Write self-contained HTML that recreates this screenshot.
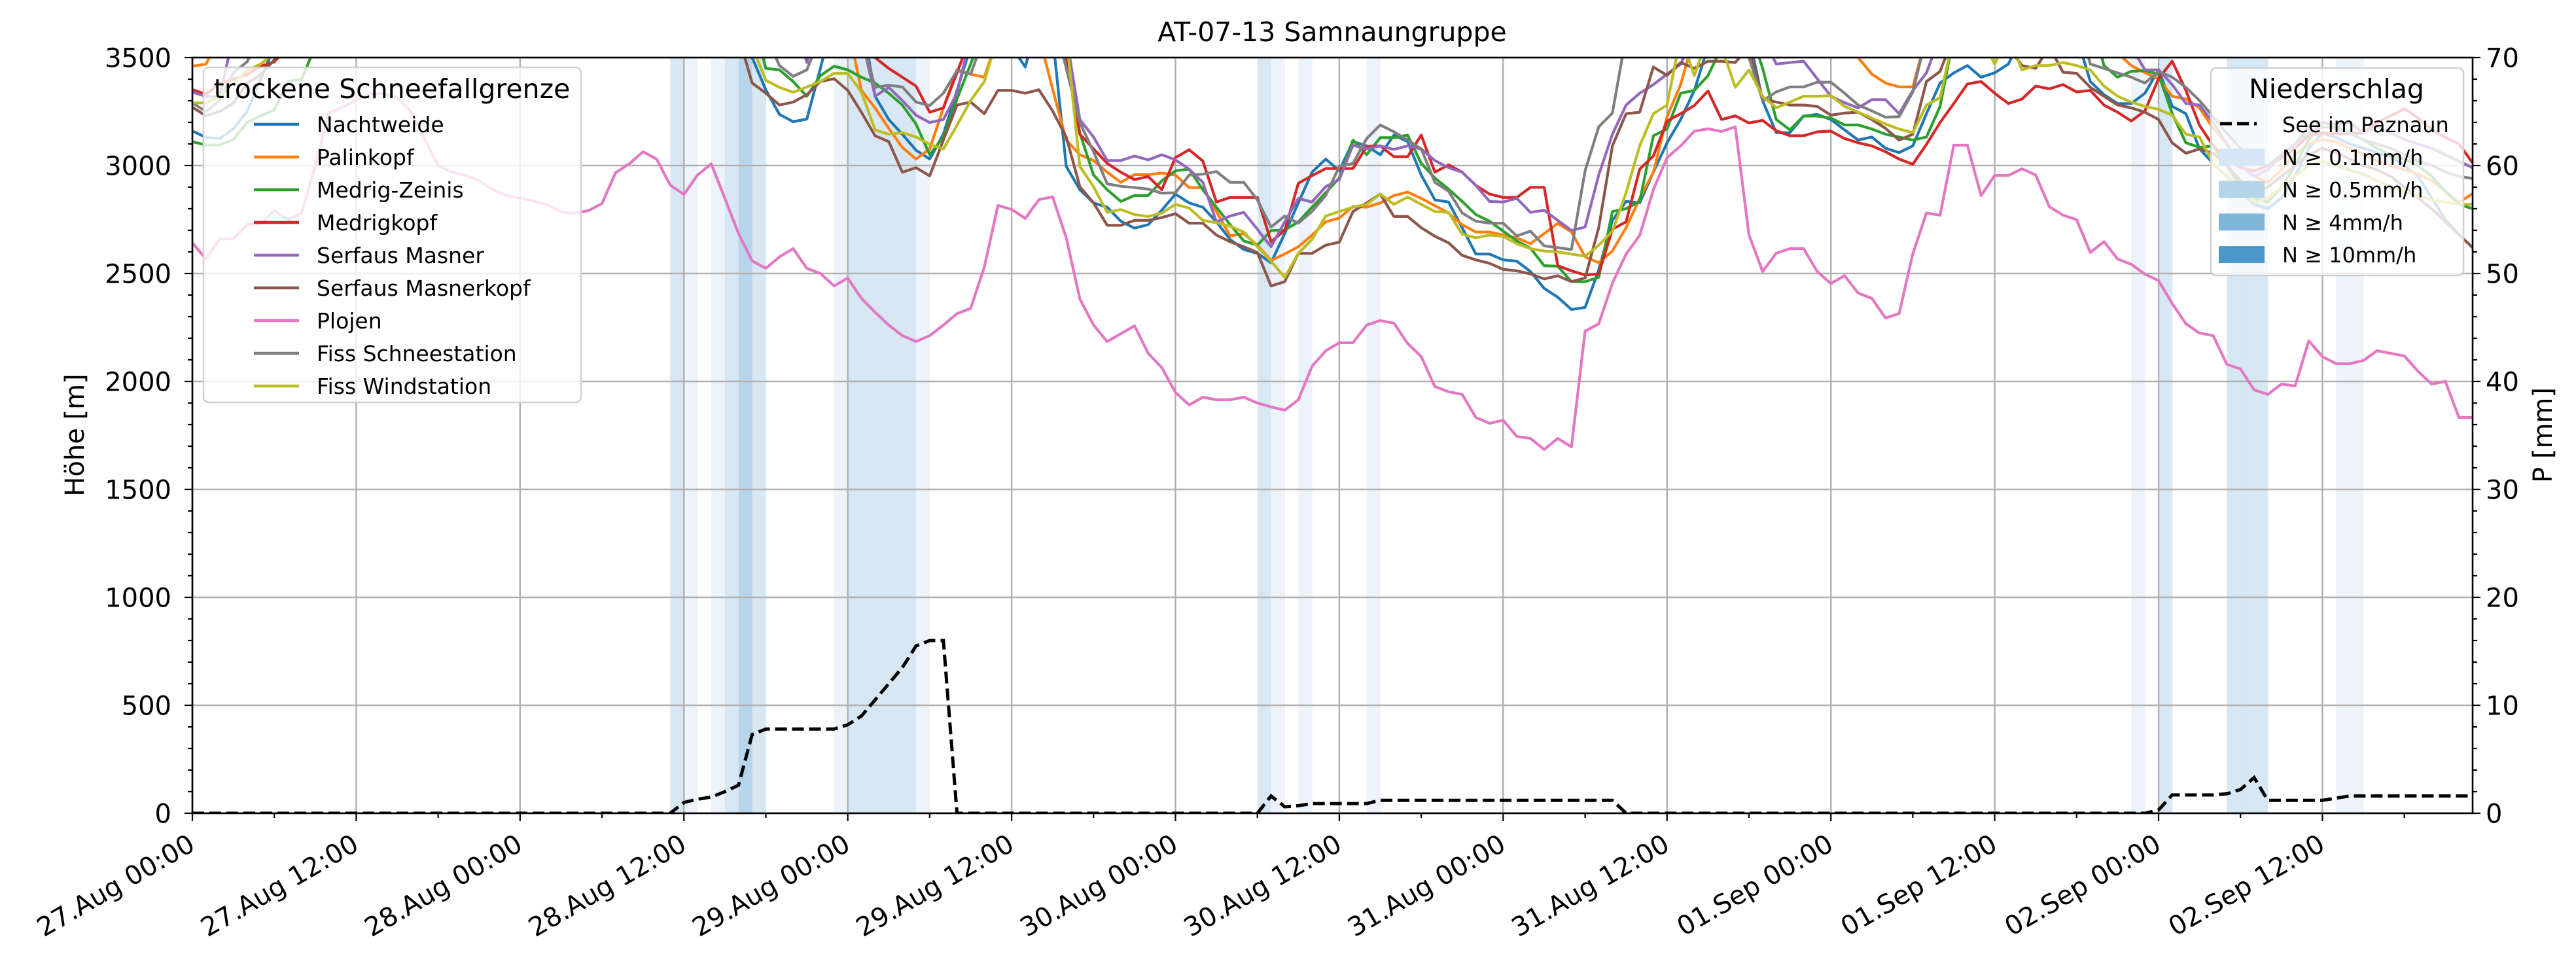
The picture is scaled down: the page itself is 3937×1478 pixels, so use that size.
<!DOCTYPE html>
<html><head><meta charset="utf-8"><style>
html,body{margin:0;padding:0;background:#fff;}
svg{display:block;font-family:"DejaVu Sans","Liberation Sans",sans-serif;}
</style></head><body>
<svg id="chart" width="3937" height="1478" viewBox="0 0 3937 1478" xmlns="http://www.w3.org/2000/svg">
<defs><clipPath id="plotclip"><rect x="294" y="88" width="3485" height="1155"/></clipPath></defs>
<g id="bands" clip-path="url(#plotclip)"></g>
<g id="grid"></g>
<g id="series" clip-path="url(#plotclip)"></g>
<g id="axes"></g>
<text x="2036" y="63" font-size="41" text-anchor="middle">AT-07-13 Samnaungruppe</text>
<text transform="translate(128,665) rotate(-90)" font-size="40" text-anchor="middle">Höhe [m]</text>
<text transform="translate(3900,665) rotate(-90)" font-size="40" text-anchor="middle">P [mm]</text>
<g id="legend1"></g>
<g id="legend2"></g>
</svg>
<script>
const NS="http://www.w3.org/2000/svg";
// ---- data ----
const stationNames=["Nachtweide","Palinkopf","Medrig-Zeinis","Medrigkopf","Serfaus Masner","Serfaus Masnerkopf","Plojen","Fiss Schneestation","Fiss Windstation"];
const stationColors=["#1f77b4","#ff7f0e","#2ca02c","#d62728","#9467bd","#8c564b","#e377c2","#7f7f7f","#bcbd22"];
const xTickLabels=["27.Aug 00:00","27.Aug 12:00","28.Aug 00:00","28.Aug 12:00","29.Aug 00:00","29.Aug 12:00","30.Aug 00:00","30.Aug 12:00","31.Aug 00:00","31.Aug 12:00","01.Sep 00:00","01.Sep 12:00","02.Sep 00:00","02.Sep 12:00"];
const yTicks=[0,500,1000,1500,2000,2500,3000,3500];
const y2Ticks=[0,10,20,30,40,50,60,70];
const A=3700;
const nachtweide=[3160,3130,3125,3170,3250,3400,3550,A,A,A, A,A,A,A,A,A,A,A,A,A, A,A,A,A,A,A,A,A,A,A, A,A,A,A,A,A,A,A,A,A,
A,3500,3350,3237,3203,3215,3450,A,A,A, 3321,3213,3145,3071,3030,3145,3348,3550,A,A, 3550,3456,A,3600,2996,2888,2827,2807,2742,2710,
2726,2793,2868,2827,2807,2739,2658,2611,2593,2550, 2685,2827,2969,3030,2976,3111,3091,3050,3141,3111, 2956,2841,2831,2712,2590,2590,2563,2557,2509,2431,
2390,2333,2343,2516,2746,2834,2827,2969,3105,3213, 3348,3550,A,A,3600,3300,3152,3152,3229,3237, 3213,3165,3118,3132,3080,3060,3091,3240,3382,3429,
3463,3409,3429,3470,3600,A,A,A,3600,3389, 3328,3287,3287,3335,3443,3274,3240,3077,3010,2950, 2880,2820,2800,2850,2950,3080,3150,3130,3100,3080,
3060,3040,3000,2950,2850,2750,2680,2620];
const palinkopf=[3460,3470,3600,A,A,A,A,A,A,A, A,A,A,A,A,A,A,A,A,A, A,A,A,A,A,A,A,A,A,A, A,A,A,A,A,A,A,A,A,A, A,A,A,A,A,A,A,A,3650,3348,
3267,3172,3084,3030,3077,3267,3443,3423,3409,3600, A,A,3600,3355,3118,3050,3023,2969,2922,2958, 2958,2965,2956,2898,2898,2787,2674,2685,2631,2561,
2590,2624,2678,2739,2757,2810,2807,2827,2861,2877, 2848,2814,2780,2726,2692,2692,2678,2665,2638,2685, 2732,2692,2577,2550,2604,2712,2848,2969,3226,3375,
3600,A,A,A,A,A,A,A,A,A, A,3600,3500,3423,3382,3364,3364,3600,A,A, A,A,A,A,A,A,A,A,A,A,
3600,3520,3463,3430,3402,3321,3308,3267,3172,3100, 3000,2950,2920,2980,3050,3100,3120,3110,3080,3050, 3020,3000,2980,2960,2930,2880,2830,2870];
const medrigZeinis=[3110,3095,3095,3120,3200,3230,3258,3390,3400,3550, A,A,A,A,A,A,A,A,A,A, A,A,A,A,A,A,A,A,A,A, A,A,A,A,A,A,A,A,A,A,
A,A,3450,3443,3389,3321,3416,3460,3443,3409, 3382,3335,3280,3192,3050,3132,3308,3470,3650,A, A,A,A,3600,3500,3150,2956,2888,2834,2861,
2861,2929,2976,2983,2888,2807,2726,2651,2631,2699, 2701,2739,2807,2874,2942,3118,3050,3129,3129,3141, 3010,2942,2891,2834,2773,2742,2696,2651,2617,2536,
2534,2462,2462,2482,2787,2800,2834,3138,3169,3335, 3348,3416,3550,A,3650,3450,3213,3165,3229,3229, 3220,3188,3188,3169,3145,3132,3118,3132,3274,3600,
A,A,A,A,A,A,A,A,A,A, 3463,3409,3436,3440,3423,3240,3105,3084,3091,3000, 2900,2850,2830,2900,3000,3120,3200,3180,3150,3120,
3080,3050,3030,3000,2950,2880,2820,2800];
const medrigkopf=[3352,3330,3380,3400,3420,3460,3480,3550,A,A, A,A,A,A,A,A,A,A,A,A, A,A,A,A,A,A,A,A,A,A, A,A,A,A,A,A,A,A,A,A, A,A,A,A,A,A,A,A,A,A,
3500,3450,3409,3368,3247,3267,3429,3600,A,A, A,A,A,A,3500,3145,3077,3010,2969,2935, 2949,2888,3037,3073,3021,2831,2852,2852,2852,2647,
2699,2918,2953,2986,2986,2986,3088,3091,3041,3041, 3141,2969,3003,2969,2908,2868,2852,2852,2899,2899, 2536,2512,2493,2498,2705,2739,2983,3044,3206,3240,
3278,3345,3213,3230,3197,3209,3161,3138,3138,3156, 3159,3125,3105,3091,3064,3030,3006,3098,3199,3287, 3378,3389,3335,3287,3308,3368,3355,3375,3341,3348,
3280,3247,3206,3253,3402,3483,3348,3186,3091,3030, 2990,2975,3000,3033,3080,3139,3150,3148,3148,3150, 3200,3230,3264,3220,3167,3130,3100,3012];
const serfausMasner=[3340,3320,3320,3600,A,A,A,A,A,A, A,A,A,A,A,A,A,A,A,A, A,A,A,A,A,A,A,A,A,A, A,A,A,A,A,A,A,A,A,A, A,A,A,A,A,3477,A,A,A,3600,
3321,3362,3301,3233,3199,3213,3335,3600,A,A, A,A,A,A,3600,3213,3132,3023,3023,3044, 3026,3050,3026,2983,2922,2739,2766,2783,2705,2624,
2739,2848,2831,2902,2935,3094,3077,3091,3075,3091, 3077,3023,2990,2969,2908,2834,2831,2848,2783,2793, 2746,2699,2715,2956,3145,3280,3335,3375,3423,3470,
3600,A,A,A,A,3600,3470,3477,3483,3402, 3321,3291,3267,3305,3305,3240,3348,3429,3600,A, A,A,A,A,A,A,A,A,A,A,
A,3600,3550,3443,3443,3375,3287,3280,3199,3100, 3000,2950,2980,3050,3100,3180,3200,3190,3200,3150, 3180,3150,3120,3100,3080,3050,3020,2990];
const masnerkopf=[3270,3230,3250,3290,3380,3420,3490,3600,A,A, A,A,A,A,A,A,A,A,A,A, A,A,A,A,A,A,A,A,A,A, A,A,A,A,A,A,A,A,A,A,
3600,3382,3335,3280,3294,3328,3389,3402,3348,3247, 3138,3111,2969,2990,2952,3118,3280,3294,3240,3348, 3348,3335,3351,3253,3132,2902,2827,2723,2723,2746,
2746,2759,2777,2733,2733,2678,2647,2624,2597,2442, 2462,2593,2593,2631,2645,2787,2827,2868,2764,2764, 2712,2672,2642,2584,2563,2547,2519,2512,2498,2475,
2489,2462,2479,2712,3091,3240,3247,3456,3418,3477, 3450,3483,3483,3477,3550,3308,3294,3280,3280,3274, 3233,3243,3247,3213,3172,3118,3145,3389,3436,3600,
A,A,3600,3550,3463,3450,3550,3432,3427,3362, 3321,3280,3267,3247,3213,3105,3057,3077,3057,3000, 2930,2880,2900,2950,3000,3050,3080,3060,3030,3000,
2980,2950,2900,2850,2800,2740,2680,2620];
const plojen=[2642,2567,2660,2660,2727,2730,2791,2749,2779,3000, 3245,3270,3303,3333,3333,3315,3250,3124,3000,2970, 2955,2930,2888,2861,2849,2836,2818,2785,2779,2791,
2824,2967,3008,3064,3030,2909,2866,2956,3008,2848, 2685,2558,2524,2577,2615,2524,2500,2442,2479,2385, 2321,2261,2212,2185,2212,2261,2314,2338,2530,2815,
2797,2755,2842,2855,2665,2382,2261,2185,2221,2258, 2130,2064,1949,1891,1927,1915,1915,1927,1900,1882, 1867,1915,2070,2142,2179,2179,2261,2282,2270,2176,
2115,1976,1952,1940,1833,1806,1820,1745,1736,1685, 1736,1697,2233,2267,2455,2590,2676,2888,3036,3091, 3159,3170,3158,3179,2679,2509,2594,2615,2615,2509,
2453,2490,2409,2385,2294,2314,2591,2780,2770,3094, 3094,2861,2954,2954,2985,2956,2809,2770,2749,2597, 2648,2567,2542,2497,2467,2361,2267,2224,2212,2079,
2058,1961,1940,1988,1979,2188,2115,2082,2082,2097, 2142,2130,2118,2047,1988,2000,1833,1833];
const fissSchnee=[3290,3250,3300,3430,3480,3600,A,A,A,A, A,A,A,A,A,A,A,A,A,A, A,A,A,A,A,A,A,A,A,A, A,A,A,A,A,A,A,A,A,A,
A,A,3600,3463,3413,3443,3600,A,A,3600, 3362,3372,3364,3294,3278,3335,3440,3423,3600,A, A,A,A,A,3450,3199,3064,2915,2904,2898,
2891,2872,2874,2956,2960,2972,2922,2922,2841,2715, 2766,2733,2787,2861,2996,3010,3125,3188,3156,3118, 3077,2922,2881,2780,2742,2733,2733,2674,2696,2628,
2620,2611,2976,3179,3243,3600,A,A,A,A, A,A,A,A,3500,3300,3341,3364,3364,3386, 3386,3335,3280,3253,3224,3226,3341,3600,A,A,
A,A,A,A,A,A,A,A,A,3470, 3450,3429,3409,3382,3436,3409,3362,3301,3226,3150, 3080,3020,3000,3050,3100,3150,3180,3170,3150,3120,
3100,3080,3050,3020,3000,2970,2950,2940];
const fissWind=[3290,3290,3320,3380,3440,3470,3520,A,A,A, A,A,A,A,A,A,A,A,A,A, A,A,A,A,A,A,A,A,A,A, A,A,A,A,A,A,A,A,A,A,
A,3550,3395,3362,3339,3364,3389,3427,3427,3341, 3165,3145,3152,3132,3098,3077,3186,3301,3389,3600, A,A,A,A,3600,2996,2902,2783,2796,2773,
2764,2780,2820,2803,2746,2735,2719,2692,2624,2557, 2482,2593,2658,2766,2787,2807,2820,2868,2820,2854, 2820,2787,2783,2682,2665,2678,2672,2638,2615,2604,
2600,2590,2580,2631,2696,2874,3091,3240,3280,3600, 3416,3600,3550,3362,3443,3321,3267,3294,3321,3321, 3324,3274,3247,3220,3192,3169,3152,3280,3314,3600,
A,3600,3470,3600,3443,3463,3463,3477,3463,3443, 3368,3321,3294,3274,3260,3233,3145,3132,3010,2950, 2880,2830,2850,2900,2950,3000,3020,3000,2980,2960,
2930,2900,2880,2860,2840,2830,2820,2820];
// cumulative precipitation (mm), hourly
const precipSum=[0,0,0,0,0,0,0,0,0,0, 0,0,0,0,0,0,0,0,0,0, 0,0,0,0,0,0,0,0,0,0, 0,0,0,0,0,0,1.0,1.3,1.5,2.0,
2.6,7.3,7.8,7.8,7.8,7.8,7.8,7.8,8.2,9.0, 10.5,12.0,13.5,15.5,16,16,0,0,0,0, 0,0,0,0,0,0,0,0,0,0,
0,0,0,0,0,0,0,0,0,1.6, 0.6,0.7,0.9,0.9,0.9,0.9,0.9,1.2,1.2,1.2, 1.2,1.2,1.2,1.2,1.2,1.2,1.2,1.2,1.2,1.2,
1.2,1.2,1.2,1.2,1.2,0,0,0,0,0, 0,0,0,0,0,0,0,0,0,0, 0,0,0,0,0,0,0,0,0,0,
0,0,0,0,0,0,0,0,0,0, 0,0,0,0,0.3,1.7,1.7,1.7,1.7,1.8, 2.2,3.3,1.2,1.2,1.2,1.2,1.2,1.4,1.6,1.6,
1.6,1.6,1.6,1.6,1.6,1.6,1.6,1.6];
const bandHours=[35,36,38,39,40,41,47,48,49,50,51,52,53,78,79,81,86,142,144,149,150,151,157,158];
const bandLevels=[2,1,1,2,3,2,1,2,2,2,2,2,1,2,1,1,1,1,2,2,2,2,1,1];
const bandColors=["#ffffff","#edf3fa","#d7e7f4","#b6d4ea","#4e97c8"];
const legendBandLabels=["N ≥ 0.1mm/h","N ≥ 0.5mm/h","N ≥ 4mm/h","N ≥ 10mm/h"];
const legendBandColors=["#d6e6f4","#b5d3e9","#7fb5d8","#4b97c9"];
// ---- scales ----
const X0=294,X1=3779,Y0=1243,Y1=88,HMAX=167;
const xs=h=>X0+(X1-X0)*h/HMAX;
const ys=v=>Y0-(Y0-Y1)*v/3500;
const y2s=v=>Y0-(Y0-Y1)*v/70;
function mk(tag,attrs,parent){const e=document.createElementNS(NS,tag);for(const k in attrs)e.setAttribute(k,attrs[k]);parent.appendChild(e);return e;}
const bands=document.getElementById('bands'),grid=document.getElementById('grid'),series=document.getElementById('series'),axes=document.getElementById('axes');
// bands
bandHours.forEach((h,i)=>{
 const r=mk('rect',{x:xs(h),y:Y1,width:xs(h+1)-xs(h)+0.5,height:Y0-Y1,fill:bandColors[bandLevels[i]]},bands);
 
 
});
// grid
xTickLabels.forEach((l,i)=>{const x=xs(i*12);const g=mk('line',{x1:x,x2:x,y1:Y1,y2:Y0,stroke:'#b0b0b0','stroke-width':2.4},grid);
 
 });
yTicks.forEach(v=>{const y=ys(v);const g=mk('line',{x1:X0,x2:X1,y1:y,y2:y,stroke:'#b0b0b0','stroke-width':2.4},grid);
 
 });
// series
const all=[nachtweide,palinkopf,medrigZeinis,medrigkopf,serfausMasner,masnerkopf,plojen,fissSchnee,fissWind];
all.forEach((arr,i)=>{
 const d=arr.map((v,h)=>(h?'L':'M')+xs(h).toFixed(1)+','+ys(v).toFixed(1)).join('');
 const p=mk('path',{d:d,fill:'none',stroke:stationColors[i],'stroke-width':4.2,'stroke-linejoin':'round'},series);
 
 
});
{const d=precipSum.map((v,h)=>(h?'L':'M')+xs(h).toFixed(1)+','+y2s(v).toFixed(1)).join('');
 const p=mk('path',{d:d,fill:'none',stroke:'#000','stroke-width':5,'stroke-dasharray':'18,8'},series);
 
 }
// axes spines
mk('rect',{x:X0,y:Y1,width:X1-X0,height:Y0-Y1,fill:'none',stroke:'#000','stroke-width':2.6},axes);
// x ticks
for(let h=0;h<=HMAX;h+=6){const x=xs(h);const major=h%12===0;
 mk('line',{x1:x,x2:x,y1:Y0,y2:Y0+(major?12:7),stroke:'#000','stroke-width':2.2},axes);}
xTickLabels.forEach((l,i)=>{const x=xs(i*12);
 const t=mk('text',{transform:`translate(${x-8},${Y0+30}) rotate(-30)`,'text-anchor':'end','dominant-baseline':'hanging','font-size':40},axes);
 t.textContent=l;
 
 });
// y ticks
for(let v=0;v<=3500;v+=100){const y=ys(v);const major=v%500===0;
 mk('line',{x1:X0,x2:X0-(major?12:7),y1:y,y2:y,stroke:'#000','stroke-width':2.2},axes);}
yTicks.forEach(v=>{const t=mk('text',{x:X0-32,y:ys(v)+14.5,'text-anchor':'end','font-size':40},axes);t.textContent=v;
 
 });
for(let v=0;v<=70;v+=2){const y=y2s(v);const major=v%10===0;
 mk('line',{x1:X1,x2:X1+(major?12:7),y1:y,y2:y,stroke:'#000','stroke-width':2.2},axes);}
y2Ticks.forEach(v=>{const t=mk('text',{x:X1+20,y:y2s(v)+14.5,'text-anchor':'start','font-size':40},axes);t.textContent=v;
 
 });
// legend 1
const L1=document.getElementById('legend1');
mk('rect',{x:311,y:103,width:577,height:512,rx:8,fill:'#fff','fill-opacity':0.8,stroke:'#d0d0d0','stroke-width':2.5},L1);
{const t=mk('text',{x:599,y:150,'font-size':41,'text-anchor':'middle'},L1);t.textContent='trockene Schneefallgrenze';}
stationNames.forEach((n,i)=>{const y=190+i*50;
 mk('line',{x1:388,x2:457,y1:y,y2:y,stroke:stationColors[i],'stroke-width':4.5},L1);
 const t=mk('text',{x:484,y:y+12,'font-size':33},L1);t.textContent=n;
 
 });
// legend 2
const L2=document.getElementById('legend2');
mk('rect',{x:3379,y:104,width:386,height:317,rx:8,fill:'#fff','fill-opacity':0.8,stroke:'#d0d0d0','stroke-width':2.5},L2);
{const t=mk('text',{x:3571,y:150,'font-size':41,'text-anchor':'middle'},L2);t.textContent='Niederschlag';}
mk('line',{x1:3393,x2:3449,y1:189,y2:189,stroke:'#000','stroke-width':5,'stroke-dasharray':'18,8'},L2);
{const t=mk('text',{x:3488,y:202,'font-size':32},L2);t.textContent='See im Paznaun';
 
 }
legendBandLabels.forEach((l,i)=>{const y=240+i*49.7;
 mk('rect',{x:3391,y:y-13,width:70,height:26,fill:legendBandColors[i]},L2);
 const t=mk('text',{x:3488,y:y+12,'font-size':32},L2);t.textContent=l;
 
 });
</script>
</body></html>
